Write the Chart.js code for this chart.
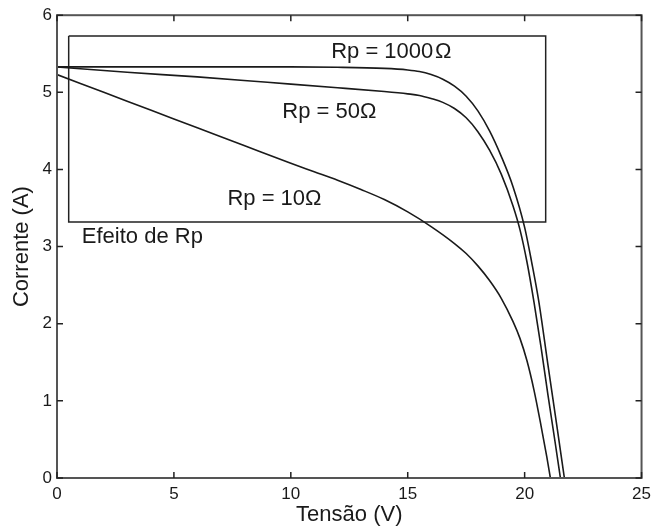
<!DOCTYPE html>
<html>
<head>
<meta charset="utf-8">
<script src="https://cdn.jsdelivr.net/npm/chart.js@4.4.0/dist/chart.umd.min.js"></script>
<style>
  html, body { margin: 0; padding: 0; background: #fff; }
  #wrap { width: 657px; height: 529px; }
</style>
</head>
<body>
<div id="wrap"><canvas id="chartIV"></canvas></div>
<script>
// Curvas I-V (tensão em V, corrente em A)
const v1000 = [0, 5, 10, 12, 14, 15, 15.5, 16, 16.5, 17, 17.5, 18, 18.5, 19, 19.5, 20, 20.3, 20.6, 21, 21.4, 21.7];
const i1000 = [5.33, 5.33, 5.33, 5.325, 5.31, 5.29, 5.27, 5.23, 5.17, 5.08, 4.95, 4.76, 4.50, 4.17, 3.78, 3.25, 2.80, 2.30, 1.46, 0.63, 0];

const v50 = [0, 3, 6, 9, 12, 14, 15, 15.5, 16, 16.5, 17, 17.5, 18, 18.5, 19, 19.5, 19.8, 20.1, 20.4, 20.7, 21.0, 21.3, 21.53];
const i50 = [5.33, 5.26, 5.20, 5.13, 5.06, 5.01, 4.98, 4.96, 4.92, 4.87, 4.79, 4.67, 4.49, 4.25, 3.94, 3.53, 3.22, 2.80, 2.28, 1.70, 1.07, 0.47, 0];

const v10 = [0, 2, 4, 6, 8, 10, 11, 12, 13, 14, 15, 16, 17, 17.5, 18, 18.5, 19, 19.5, 19.8, 20.1, 20.4, 20.7, 20.95, 21.1];
const i10 = [5.23, 5.00, 4.77, 4.54, 4.31, 4.08, 3.97, 3.86, 3.74, 3.61, 3.45, 3.26, 3.04, 2.91, 2.75, 2.56, 2.33, 2.03, 1.81, 1.52, 1.14, 0.68, 0.27, 0];

// retângulo "Efeito de Rp"
const boxV = [0.5, 20.9, 20.9, 0.5, 0.5];
const boxI = [5.73, 5.73, 3.32, 3.32, 5.73];

// textos da figura
const notaTextos = ['Rp = 1000\u200aΩ', 'Rp = 50Ω', 'Rp = 10Ω', 'Efeito de Rp'];
const notaV = [14.3, 11.65, 9.3, 3.65];
const notaI = [5.53, 4.75, 3.62, 3.12];

const toPts = (xs, ys) => xs.map((x, k) => ({ x: x, y: ys[k] }));

const curva = (pts) => ({
  data: pts,
  showLine: true,
  borderColor: '#1a1a1a',
  borderWidth: 1.6,
  pointRadius: 0,
  cubicInterpolationMode: 'monotone',
  fill: false
});

// moldura + ticks para dentro (estilo MATLAB) + textos
const molduraPlugin = {
  id: 'moldura',
  afterDatasetsDraw(chart) {
    const { ctx, chartArea: a, scales: { x, y } } = chart;
    ctx.save();
    ctx.strokeStyle = '#555';
    ctx.lineWidth = 2;
    ctx.strokeRect(a.left, a.top, a.right - a.left, a.bottom - a.top);
    ctx.lineWidth = 1.5;
    ctx.strokeStyle = '#222';
    const len = 6;
    x.ticks.forEach(t => {
      const px = x.getPixelForValue(t.value);
      ctx.beginPath();
      ctx.moveTo(px, a.bottom); ctx.lineTo(px, a.bottom - len);
      ctx.moveTo(px, a.top); ctx.lineTo(px, a.top + len);
      ctx.stroke();
    });
    y.ticks.forEach(t => {
      const py = y.getPixelForValue(t.value);
      ctx.beginPath();
      ctx.moveTo(a.left, py); ctx.lineTo(a.left + len, py);
      ctx.moveTo(a.right, py); ctx.lineTo(a.right - len, py);
      ctx.stroke();
    });
    ctx.fillStyle = '#1a1a1a';
    ctx.font = '22px "Liberation Sans", Arial, sans-serif';
    ctx.textAlign = 'center';
    ctx.textBaseline = 'middle';
    notaTextos.forEach((txt, k) => {
      ctx.fillText(txt, x.getPixelForValue(notaV[k]), y.getPixelForValue(notaI[k]));
    });
    ctx.restore();
  }
};

const ctx = document.getElementById('chartIV').getContext('2d');
new Chart(ctx, {
  type: 'scatter',
  data: {
    datasets: [
      curva(toPts(v1000, i1000)),
      curva(toPts(v50, i50)),
      curva(toPts(v10, i10)),
      {
        data: toPts(boxV, boxI),
        showLine: true,
        borderColor: '#222',
        borderWidth: 1.5,
        pointRadius: 0,
        tension: 0,
        fill: false
      }
    ]
  },
  options: {
    responsive: true,
    maintainAspectRatio: false,
    animation: false,
    layout: { padding: { top: 14, right: 12, left: 0, bottom: 0 } },
    plugins: { legend: { display: false }, tooltip: { enabled: false } },
    scales: {
      x: {
        type: 'linear',
        min: 0, max: 25,
        ticks: { stepSize: 5, color: '#1a1a1a', padding: 6, font: { family: 'Liberation Sans', size: 17 } },
        grid: { display: false, drawTicks: false },
        border: { display: false },
        title: { display: true, text: 'Tensão (V)', color: '#1a1a1a', padding: { top: 0, bottom: 1 }, font: { family: 'Liberation Sans', size: 22 } },
        afterFit(s) { s.height = 51; }
      },
      y: {
        type: 'linear',
        min: 0, max: 6,
        ticks: { stepSize: 1, color: '#1a1a1a', padding: 5, font: { family: 'Liberation Sans', size: 17 } },
        grid: { display: false, drawTicks: false },
        border: { display: false },
        title: { display: true, text: 'Corrente (A)', color: '#1a1a1a', padding: { top: 8.5, bottom: 0 }, font: { family: 'Liberation Sans', size: 22 } },
        afterFit(s) { s.width = 57; }
      }
    }
  },
  plugins: [molduraPlugin]
});
</script>
</body>
</html>
